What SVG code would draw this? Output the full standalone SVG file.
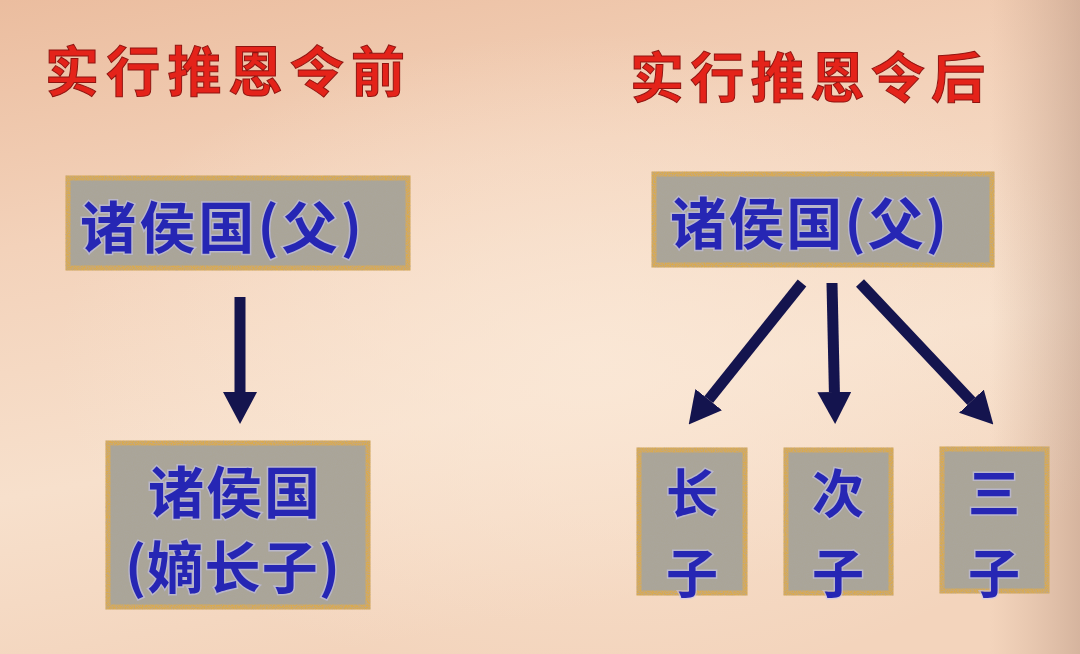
<svg xmlns="http://www.w3.org/2000/svg" width="1080" height="654" viewBox="0 0 1080 654">
<defs>
<linearGradient id="bg" x1="0" y1="0" x2="0.3" y2="1">
<stop offset="0" stop-color="#ebbd9f"/>
<stop offset="0.35" stop-color="#f3d2ba"/>
<stop offset="0.7" stop-color="#f7e0cc"/>
<stop offset="1" stop-color="#f3d4bc"/>
</linearGradient>
<radialGradient id="glow" cx="0.55" cy="0.55" r="0.5">
<stop offset="0" stop-color="#fbe9d8" stop-opacity="0.8"/>
<stop offset="1" stop-color="#fbe9d8" stop-opacity="0"/>
</radialGradient>
<linearGradient id="edge" x1="0" y1="0" x2="1" y2="0">
<stop offset="0" stop-color="#c9a48c" stop-opacity="0"/>
<stop offset="1" stop-color="#b89480" stop-opacity="0.5"/>
</linearGradient>
<filter id="speckle" x="-0.05" y="-0.05" width="1.1" height="1.1">
<feTurbulence type="fractalNoise" baseFrequency="0.9" numOctaves="2" seed="3" result="n"/>
<feColorMatrix in="n" type="matrix" values="0 0 0 0 0.4  0 0 0 0 0.38  0 0 0 0 0.34  0 0 0 1.6 -0.6" result="g"/>
<feComposite in="g" in2="SourceGraphic" operator="in" result="gc"/>
<feMerge><feMergeNode in="SourceGraphic"/><feMergeNode in="gc"/></feMerge>
</filter>
<marker id="head" markerUnits="userSpaceOnUse" markerWidth="32" markerHeight="34" refX="0" refY="17" orient="auto" viewBox="0 0 32 34">
<path d="M0,0 L32,17 L0,34 Z" fill="#14144e"/>
</marker>
<style>
.box{fill:#aaa598;stroke:#d9aa50;stroke-width:5;filter:url(#speckle)}
.t{font-family:"Noto Sans CJK SC","Noto Sans CJK TC",sans-serif;font-weight:700;fill:#2626b4;stroke:#c4c4f4;stroke-width:3;stroke-opacity:0.55;paint-order:stroke}
.title{font-family:"Noto Sans CJK SC","Noto Sans CJK TC",sans-serif;font-weight:700;font-size:54px;fill:#e4231a;stroke:#8e1410;stroke-width:1}
.arr{stroke:#14144e;stroke-width:11;fill:none}
</style>
</defs>
<rect width="1080" height="654" fill="url(#bg)"/>
<rect width="1080" height="654" fill="url(#glow)"/>
<rect x="990" y="0" width="90" height="654" fill="url(#edge)"/>

<g id="title-before"><text class="title" x="45" y="92" textLength="360" lengthAdjust="spacing">实行推恩令前</text></g>
<g id="title-after"><text class="title" x="630" y="98" textLength="355" lengthAdjust="spacing">实行推恩令后</text></g>

<g id="connectors">
<line class="arr" x1="240" y1="297" x2="240" y2="392" marker-end="url(#head)"/>
<line class="arr" x1="802" y1="283" x2="708.7" y2="399.6" marker-end="url(#head)"/>
<line class="arr" x1="832" y1="283" x2="834.4" y2="392" marker-end="url(#head)"/>
<line class="arr" x1="860" y1="283" x2="971.4" y2="401.2" marker-end="url(#head)"/>
</g>

<g id="node-before-father">
<rect class="box" x="68" y="178" width="340" height="90"/>
<text class="t" x="80" y="248" font-size="56" textLength="282" lengthAdjust="spacing">诸侯国(父)</text>
</g>
<g id="node-before-heir">
<rect class="box" x="108" y="443" width="260" height="164"/>
<text class="t" x="148" y="513" font-size="56" textLength="172" lengthAdjust="spacing">诸侯国</text>
<text class="t" x="125" y="588" font-size="56" textLength="215" lengthAdjust="spacing">(嫡长子)</text>
</g>
<g id="node-after-father">
<rect class="box" x="654" y="174" width="338" height="91"/>
<text class="t" x="670" y="244" font-size="56" textLength="277" lengthAdjust="spacing">诸侯国(父)</text>
</g>
<g id="node-son1">
<rect class="box" x="639" y="450" width="106" height="143"/>
<text class="t" x="692" y="513" font-size="52" text-anchor="middle">长</text>
<text class="t" x="692" y="593" font-size="52" text-anchor="middle">子</text>
</g>
<g id="node-son2">
<rect class="box" x="786" y="450" width="105" height="143"/>
<text class="t" x="838" y="513" font-size="52" text-anchor="middle">次</text>
<text class="t" x="838" y="593" font-size="52" text-anchor="middle">子</text>
</g>
<g id="node-son3">
<rect class="box" x="942" y="449" width="105" height="142"/>
<text class="t" x="994" y="513" font-size="52" text-anchor="middle">三</text>
<text class="t" x="994" y="593" font-size="52" text-anchor="middle">子</text>
</g>
</svg>
